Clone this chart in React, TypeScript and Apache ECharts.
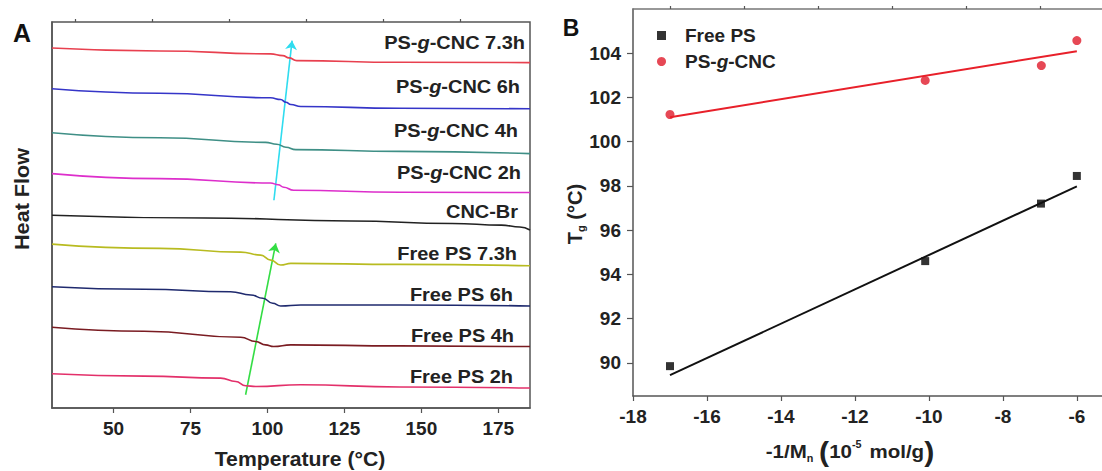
import React, { useEffect, useRef } from "react";
import * as echarts from "echarts";

// ---------- Panel A: DSC curves (temperature in °C, heat flow in arbitrary units) ----------
const tempTicks = [50, 75, 100, 125, 150, 175];
const tempMinorTicks = [37.5, 62.5, 87.5, 112.5, 137.5, 162.5];

const curveNames = [
  "PS-g-CNC 7.3h",
  "PS-g-CNC 6h",
  "PS-g-CNC 4h",
  "PS-g-CNC 2h",
  "CNC-Br",
  "Free PS 7.3h",
  "Free PS 6h",
  "Free PS 4h",
  "Free PS 2h",
];
const curveColors = [
  "#e8404f",
  "#3535c8",
  "#3f8f86",
  "#dd2ecb",
  "#222222",
  "#b8bb20",
  "#1f2a6e",
  "#7a1c22",
  "#e3306a",
];

const cnc73h = [[30, 361], [65, 358], [101, 355], [105, 353.3], [107, 351], [109.5, 348.3], [143, 346.6], [185.3, 346.3]];
const cnc6h = [[30, 320], [65, 315.5], [101, 311], [104.3, 309.3], [106, 306.5], [107.6, 304.3], [110.8, 302.3], [143, 300.6], [185.3, 300]];
const cnc4h = [[30, 276], [65, 271], [99.4, 266.3], [103, 264.5], [106, 261.5], [109.2, 259], [143, 257.3], [185.3, 255]];
const cnc2h = [[30, 235], [65, 230], [101, 225.6], [103.5, 223.8], [105.3, 221.3], [108.5, 218.3], [143, 216.3], [185.3, 216]];
const cncBr = [[30, 193.3], [80, 190.5], [127, 187.5], [160, 185], [176, 183.3], [182, 181.5], [185.3, 178.5]];
const free73h = [[30, 164.3], [65, 160], [91.3, 156.3], [97.8, 153.3], [101.1, 148.3], [104.3, 143.3], [107.6, 145], [143, 144], [185.3, 142.6]];
const free6h = [[30, 121.6], [60, 119], [88, 116.6], [94.6, 113.3], [98.5, 110], [101.7, 105], [104.3, 102.3], [110.8, 103.3], [143, 103.3], [185.3, 102.3]];
const free4h = [[30, 81], [60, 77], [91.3, 71], [96.2, 66.6], [99.4, 63.3], [102, 61.6], [107.6, 63.3], [143, 62.3], [185.3, 61.6]];
const free2h = [[30, 34.3], [60, 32], [84.8, 30], [89.7, 26.6], [92.9, 22.3], [96.2, 21.6], [110.8, 23.3], [143, 21], [185.3, 20]];
const curves = [cnc73h, cnc6h, cnc4h, cnc2h, cncBr, free73h, free6h, free4h, free2h];

// arrows marking the Tg shift (start -> tip)
const cnicArrow = [[102.1, 208.3], [108.0, 368.3]];
const freeArrow = [[92.9, 13.3], [102.7, 165]];

// ---------- Panel B: Tg vs -1/Mn ----------
const mnTicks = [-18, -16, -14, -12, -10, -8, -6];
const mnMinorTicks = [-17, -15, -13, -11, -9, -7];
const tgTicks = [90, 92, 94, 96, 98, 100, 102, 104];
const tgMinorTicks = [89, 91, 93, 95, 97, 99, 101, 103, 105];

const freePsPoints = [[-17.0, 89.85], [-10.1, 94.6], [-6.97, 97.2], [-6.0, 98.45]];
const cncPoints = [[-17.0, 101.23], [-10.1, 102.77], [-6.96, 103.44], [-6.0, 104.57]];
const freePsFit = [[-17.0, 89.44], [-6.0, 97.98]];
const cncFit = [[-17.0, 101.11], [-6.0, 104.09]];

const FONT = "'Liberation Sans', Arial, sans-serif";
const AXIS_COLOR = "#555";
const TEXT_COLOR = "#222";

function richLabel(name: string) {
  if (name.indexOf("-g-") >= 0) {
    const [a, b] = name.split("-g-");
    return `{n|${a}-}{i|g}{n|-${b}}`;
  }
  return `{n|${name}}`;
}

const labelYs = [42, 86, 130, 172, 211, 253, 294, 335, 376];
const labelXs = [525, 520, 518, 521, 518, 517, 513, 514, 513];

export default function App() {
  const ref = useRef<HTMLDivElement>(null);
  useEffect(() => {
    document.body.style.margin = "0";
    const chart = echarts.init(ref.current!, undefined, { renderer: "svg" });

    const tickLabel = {
      fontFamily: FONT,
      fontWeight: "bold" as const,
      fontSize: 19,
      color: TEXT_COLOR,
    };
    const richText = {
      n: { fontFamily: FONT, fontWeight: "bold", fontSize: 19, fill: TEXT_COLOR, color: TEXT_COLOR },
      i: { fontFamily: FONT, fontWeight: "bold", fontStyle: "italic", fontSize: 19, fill: TEXT_COLOR, color: TEXT_COLOR },
    };

    const dscSeries = curves.map((c, k) => ({
      name: curveNames[k],
      type: "line",
      xAxisIndex: 0,
      yAxisIndex: 0,
      data: c,
      showSymbol: false,
      smooth: 0.5,
      smoothMonotone: "x",
      lineStyle: { color: curveColors[k], width: 1.6 },
      itemStyle: { color: curveColors[k] },
      silent: true,
    }));

    const option: any = {
      animation: false,
      backgroundColor: "#fff",
      grid: [
        { left: 52, top: 22, width: 478, height: 386, show: true, borderColor: AXIS_COLOR, borderWidth: 1.5, backgroundColor: "transparent" },
        { left: 633, top: 9, right: 0, height: 387 },
      ],
      xAxis: [
        {
          gridIndex: 0, type: "value", min: 30, max: 185.3,
          axisLine: { show: true, lineStyle: { color: AXIS_COLOR, width: 1.5 } },
          axisTick: { show: true, customValues: tempTicks, length: 5, lineStyle: { color: AXIS_COLOR, width: 1.2 } },
          axisLabel: { ...tickLabel, customValues: tempTicks, margin: 11 },
          splitLine: { show: false },
        },
        {
          gridIndex: 0, type: "value", min: 30, max: 185.3,
          axisLine: { show: false },
          axisTick: { show: true, customValues: tempMinorTicks, length: 3, lineStyle: { color: AXIS_COLOR, width: 1.2 } },
          axisLabel: { show: false },
          splitLine: { show: false },
        },
        {
          gridIndex: 1, type: "value", min: -18, max: -5.32,
          axisLine: { show: true, lineStyle: { color: AXIS_COLOR, width: 1.5 } },
          axisTick: { show: true, customValues: mnTicks, length: 5, lineStyle: { color: AXIS_COLOR, width: 1.2 } },
          axisLabel: { ...tickLabel, customValues: mnTicks, margin: 11 },
          splitLine: { show: false },
        },
        {
          gridIndex: 1, type: "value", min: -18, max: -5.32,
          axisLine: { show: false },
          axisTick: { show: true, customValues: mnMinorTicks, length: 3, lineStyle: { color: AXIS_COLOR, width: 1.2 } },
          axisLabel: { show: false },
          splitLine: { show: false },
        },
        {
          gridIndex: 1, type: "value", min: -18, max: -5.32, position: "top",
          axisLine: { show: true, lineStyle: { color: "#777", width: 1.5 } },
          axisTick: { show: false },
          axisLabel: { show: false },
          splitLine: { show: false },
        },
      ],
      yAxis: [
        {
          gridIndex: 0, type: "value", min: 0, max: 387,
          axisLine: { show: true, lineStyle: { color: AXIS_COLOR, width: 1.5 } },
          axisTick: { show: false },
          axisLabel: { show: false },
          splitLine: { show: false },
        },
        {
          gridIndex: 1, type: "value", min: 88.5, max: 106,
          axisLine: { show: true, lineStyle: { color: AXIS_COLOR, width: 1.5 } },
          axisTick: { show: true, customValues: tgTicks, length: 6, lineStyle: { color: AXIS_COLOR, width: 1.2 } },
          axisLabel: { ...tickLabel, customValues: tgTicks, margin: 12 },
          splitLine: { show: false },
        },
        {
          gridIndex: 1, type: "value", min: 88.5, max: 106,
          axisLine: { show: false },
          axisTick: { show: true, customValues: tgMinorTicks, length: 3, lineStyle: { color: AXIS_COLOR, width: 1.2 } },
          axisLabel: { show: false },
          splitLine: { show: false },
        },
      ],
      legend: {
        data: ["Free PS", "PS-g-CNC"],
        orient: "vertical",
        left: 652,
        top: 21,
        itemWidth: 9,
        itemHeight: 9,
        itemGap: 7,
        formatter: (name: string) => richLabel(name),
        textStyle: { padding: [0, 0, 0, 14], rich: richText },
        selectedMode: false,
      },
      series: [
        ...dscSeries,
        {
          type: "lines", coordinateSystem: "cartesian2d", xAxisIndex: 0, yAxisIndex: 0,
          data: [{ coords: cnicArrow }],
          symbol: ["none", "arrow"], symbolSize: 9,
          lineStyle: { color: "#2fdcef", width: 1.6, opacity: 1, curveness: 0 },
          silent: true,
        },
        {
          type: "lines", coordinateSystem: "cartesian2d", xAxisIndex: 0, yAxisIndex: 0,
          data: [{ coords: freeArrow }],
          symbol: ["none", "arrow"], symbolSize: 9,
          lineStyle: { color: "#33dd44", width: 1.6, opacity: 1, curveness: 0 },
          silent: true,
        },
        {
          name: "Free PS fit", type: "line", xAxisIndex: 2, yAxisIndex: 1,
          data: freePsFit, showSymbol: false,
          lineStyle: { color: "#111", width: 2 }, silent: true,
        },
        {
          name: "PS-g-CNC fit", type: "line", xAxisIndex: 2, yAxisIndex: 1,
          data: cncFit, showSymbol: false,
          lineStyle: { color: "#e8202a", width: 2 }, silent: true,
        },
        {
          name: "Free PS", type: "scatter", xAxisIndex: 2, yAxisIndex: 1,
          data: freePsPoints, symbol: "rect", symbolSize: 8,
          itemStyle: { color: "#000" },
        },
        {
          name: "PS-g-CNC", type: "scatter", xAxisIndex: 2, yAxisIndex: 1,
          data: cncPoints, symbol: "circle", symbolSize: 9,
          itemStyle: { color: "#e01a2a" },
        },
      ],
      graphic: [
        {
          type: "text", x: 22, y: 33,
          style: { text: "A", fontFamily: FONT, fontWeight: "bold", fontSize: 25, fill: "#111", align: "center", verticalAlign: "middle" },
        },
        {
          type: "text", x: 571, y: 28,
          style: { text: "B", fontFamily: FONT, fontWeight: "bold", fontSize: 23, fill: "#111", align: "center", verticalAlign: "middle" },
        },
        {
          type: "text", x: 22, y: 199, rotation: Math.PI / 2, scaleX: 1.08,
          style: { text: "Heat Flow", fontFamily: FONT, fontWeight: "bold", fontSize: 20, fill: TEXT_COLOR, align: "center", verticalAlign: "middle" },
        },
        {
          type: "text", x: 300, y: 459, scaleX: 1.06,
          style: { text: "Temperature (°C)", fontFamily: FONT, fontWeight: "bold", fontSize: 20, fill: TEXT_COLOR, align: "center", verticalAlign: "middle" },
        },
        {
          type: "text", x: 575, y: 214, rotation: Math.PI / 2,
          style: {
            text: "{b|T}{s|g}{b| (°C)}",
            align: "center", verticalAlign: "middle",
            rich: {
              b: { fontFamily: FONT, fontWeight: "bold", fontSize: 20, fill: TEXT_COLOR, lineHeight: 22, verticalAlign: "middle" },
              s: { fontFamily: FONT, fontWeight: "bold", fontSize: 11, fill: TEXT_COLOR, lineHeight: 22, verticalAlign: "bottom" },
            },
          },
        },
        {
          type: "text", x: 850, y: 451, scaleX: 1.08,
          style: {
            text: "{b|-1/M}{s|n}{b| }{p|(}{b|10}{u|-5}{b| mol/g}{p|)}",
            align: "center", verticalAlign: "middle",
            rich: {
              b: { fontFamily: FONT, fontWeight: "bold", fontSize: 19, fill: TEXT_COLOR, lineHeight: 30, verticalAlign: "middle" },
              s: { fontFamily: FONT, fontWeight: "bold", fontSize: 10, fill: TEXT_COLOR, lineHeight: 30, verticalAlign: "bottom", padding: [0, 0, 2, 0] },
              u: { fontFamily: FONT, fontWeight: "bold", fontSize: 10, fill: TEXT_COLOR, lineHeight: 30, verticalAlign: "top", padding: [4, 2, 0, 0] },
              p: { fontFamily: FONT, fontWeight: "bold", fontSize: 28, fill: TEXT_COLOR, lineHeight: 30, verticalAlign: "middle" },
            },
          },
        },
        ...curveNames.map((name, k) => ({
          type: "text", x: labelXs[k], y: labelYs[k], scaleX: 1.05,
          style: { text: richLabel(name), align: "right", verticalAlign: "middle", rich: richText },
        })),
      ],
    };

    chart.setOption(option);
    return () => chart.dispose();
  }, []);

  return <div ref={ref} style={{ width: 1102, height: 471 }} />;
}
